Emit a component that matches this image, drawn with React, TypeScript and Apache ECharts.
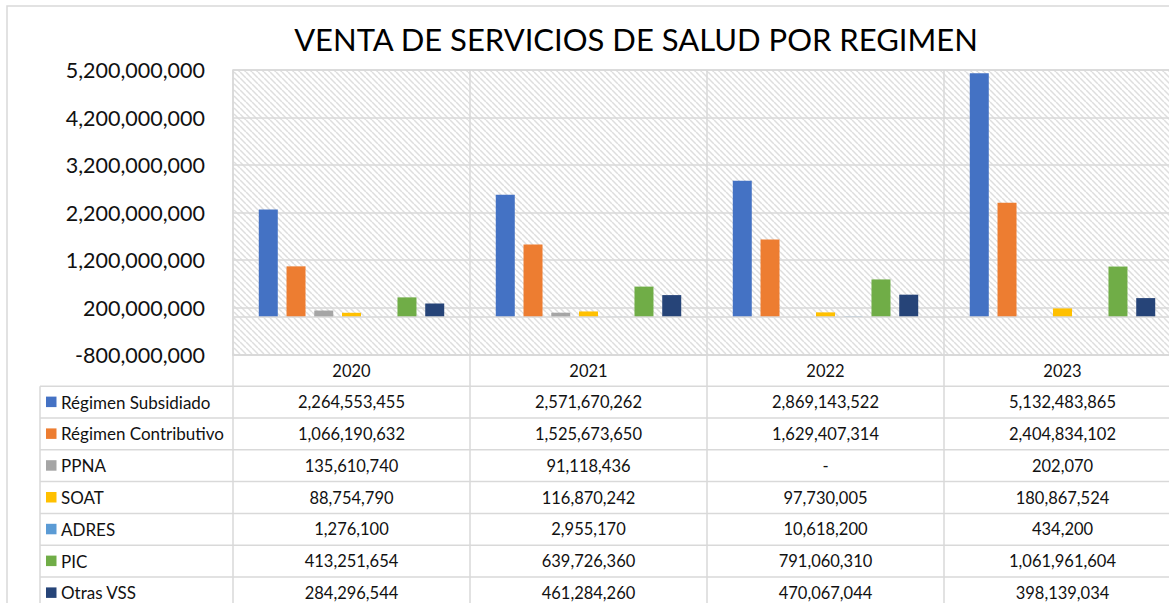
import React, { useEffect, useRef } from 'react';
import * as echarts from 'echarts';

const TITLE = 'VENTA DE SERVICIOS DE SALUD POR REGIMEN';
const CATEGORIES = ['2020', '2021', '2022', '2023'];
const TICK_LABELS = [
  '-800,000,000',
  '200,000,000',
  '1,200,000,000',
  '2,200,000,000',
  '3,200,000,000',
  '4,200,000,000',
  '5,200,000,000',
];
const Y_MIN = -800000000;
const Y_MAX = 5200000000;

const SERIES_NAMES = [
  'Régimen Subsidiado',
  'Régimen Contributivo',
  'PPNA',
  'SOAT',
  'ADRES',
  'PIC',
  'Otras VSS',
];
const SUBSIDIADO = [2264553455, 2571670262, 2869143522, 5132483865];
const CONTRIBUTIVO = [1066190632, 1525673650, 1629407314, 2404834102];
const PPNA = [135610740, 91118436, 0, 202070];
const SOAT = [88754790, 116870242, 97730005, 180867524];
const ADRES = [1276100, 2955170, 10618200, 434200];
const PIC = [413251654, 639726360, 791060310, 1061961604];
const OTRAS_VSS = [284296544, 461284260, 470067044, 398139034];
const SERIES_VALUES = [SUBSIDIADO, CONTRIBUTIVO, PPNA, SOAT, ADRES, PIC, OTRAS_VSS];
const SERIES_COLORS = ['#4472C4', '#ED7D31', '#A5A5A5', '#FFC000', '#5B9BD5', '#70AD47', '#264478'];

const W = 1169;
const H = 603;
const FONT = 'Lato, "Noto Sans", sans-serif';
const LINE = '#d9d9d9';
const TEXT = '#111111';

const GRID_LEFT = 233;
const GRID_TOP = 70;
const GRID_WIDTH = 948;
const GRID_HEIGHT = 285;
const TABLE_LEFT = 40;
const HEADER_H = 31.2;
const ROW_H = 31.8;

function fmt(v: number): string {
  return v === 0 ? '-' : v.toLocaleString('en-US');
}

function makeHatch(): HTMLCanvasElement {
  const s = 6;
  const c = document.createElement('canvas');
  c.width = s;
  c.height = s;
  const ctx = c.getContext('2d')!;
  ctx.fillStyle = '#ffffff';
  ctx.fillRect(0, 0, s, s);
  ctx.strokeStyle = '#dedede';
  ctx.lineWidth = 1.5;
  for (const o of [-s, 0, s]) {
    ctx.beginPath();
    ctx.moveTo(o, 0);
    ctx.lineTo(o + s, s);
    ctx.stroke();
  }
  return c;
}

export default function App() {
  const ref = useRef<HTMLDivElement>(null);

  useEffect(() => {
    document.body.style.margin = '0';
    if (!ref.current) return;
    const chart = echarts.init(ref.current, undefined, { renderer: 'svg' });

    const catW = GRID_WIDTH / CATEGORIES.length;
    const gridBottom = GRID_TOP + GRID_HEIGHT;
    const tableTop = gridBottom + HEADER_H;
    const nRows = SERIES_NAMES.length;
    const tableBottom = H + 20;

    const graphics: any[] = [];
    graphics.push({
      type: 'rect',
      silent: true,
      shape: { x: 7, y: 6, width: W + 40, height: H + 40 },
      style: { fill: 'none', stroke: LINE, lineWidth: 1.5 },
    });
    graphics.push({
      type: 'text',
      silent: true,
      x: 636,
      y: 39,
      style: {
        text: TITLE,
        fill: '#000',
        fontSize: 31,
        fontFamily: FONT,
        align: 'center',
        verticalAlign: 'middle',
      },
    });
    for (let k = 0; k <= nRows; k++) {
      const y = tableTop + k * ROW_H;
      graphics.push({
        type: 'line',
        silent: true,
        shape: { x1: TABLE_LEFT, y1: y, x2: GRID_LEFT + GRID_WIDTH, y2: y },
        style: { stroke: LINE, lineWidth: 1.5 },
      });
    }
    graphics.push({
      type: 'line',
      silent: true,
      shape: { x1: TABLE_LEFT, y1: tableTop, x2: TABLE_LEFT, y2: tableBottom },
      style: { stroke: LINE, lineWidth: 1.5 },
    });
    for (let j = 0; j <= CATEGORIES.length; j++) {
      const x = GRID_LEFT + j * catW;
      graphics.push({
        type: 'line',
        silent: true,
        shape: { x1: x, y1: gridBottom, x2: x, y2: tableBottom },
        style: { stroke: LINE, lineWidth: 1.5 },
      });
    }
    SERIES_NAMES.forEach((name, i) => {
      const cy = tableTop + (i + 0.5) * ROW_H;
      graphics.push({
        type: 'rect',
        silent: true,
        shape: { x: 46, y: cy - 5.5, width: 10.5, height: 10.5 },
        style: { fill: SERIES_COLORS[i] },
      });
      graphics.push({
        type: 'text',
        silent: true,
        x: 61,
        y: cy,
        style: {
          text: name,
          fill: TEXT,
          fontSize: 17,
          fontFamily: FONT,
          align: 'left',
          verticalAlign: 'middle',
        },
      });
      SERIES_VALUES[i].forEach((v, j) => {
        graphics.push({
          type: 'text',
          silent: true,
          x: GRID_LEFT + (j + 0.5) * catW,
          y: cy,
          style: {
            text: fmt(v),
            fill: TEXT,
            fontSize: 16.5,
            fontFamily: FONT,
            align: 'center',
            verticalAlign: 'middle',
          },
        });
      });
    });

    const series: any[] = SERIES_NAMES.map((name, i) => ({
      name,
      type: 'bar',
      xAxisIndex: 0,
      yAxisIndex: 0,
      data: SERIES_VALUES[i],
      barWidth: 19,
      barGap: '46%',
      itemStyle: { color: SERIES_COLORS[i] },
      silent: true,
      ...(i === 0
        ? {
            markLine: {
              silent: true,
              symbol: 'none',
              label: { show: false },
              lineStyle: { color: LINE, type: 'solid', width: 1.5 },
              data: [{ yAxis: 0 }],
            },
          }
        : {}),
    }));

    chart.setOption({
      animation: false,
      backgroundColor: '#ffffff',
      grid: {
        show: true,
        left: GRID_LEFT,
        top: GRID_TOP,
        width: GRID_WIDTH,
        height: GRID_HEIGHT,
        containLabel: false,
        outerBoundsMode: 'none',
        backgroundColor: { image: makeHatch(), repeat: 'repeat' },
        borderColor: LINE,
        borderWidth: 1.5,
      },
      xAxis: [
        {
          type: 'category',
          data: CATEGORIES,
          position: 'bottom',
          axisLine: { show: true, onZero: false, lineStyle: { color: LINE, width: 1.5 } },
          axisTick: { show: false },
          splitLine: { show: true, lineStyle: { color: LINE, width: 1.5 } },
          axisLabel: { fontSize: 16.5, fontFamily: FONT, color: TEXT, margin: 7 },
        },
      ],
      yAxis: [
        {
          type: 'value',
          min: Y_MIN,
          max: Y_MAX,
          show: false,
          splitLine: { show: false },
        },
        {
          type: 'category',
          data: TICK_LABELS,
          position: 'left',
          boundaryGap: false,
          axisLine: { show: false },
          axisTick: { show: false },
          axisLabel: { interval: 0, fontSize: 21.5, fontFamily: FONT, color: TEXT, margin: 28 },
          splitLine: { show: true, interval: 0, lineStyle: { color: LINE, width: 1.5 } },
        },
      ],
      graphic: graphics,
      series,
    });

    return () => {
      chart.dispose();
    };
  }, []);

  return (
    <div
      ref={ref}
      style={{ position: 'absolute', left: 0, top: 0, width: W, height: H }}
    />
  );
}
